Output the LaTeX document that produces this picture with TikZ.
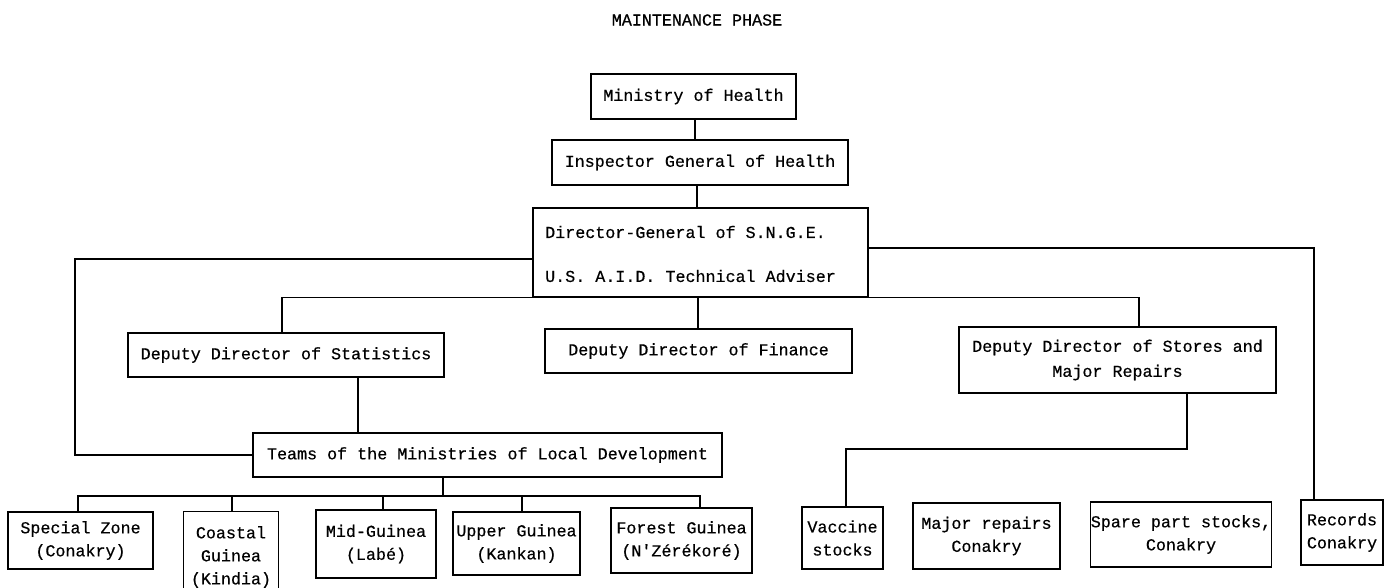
\documentclass[tikz,border=0pt]{standalone}
\usepackage{fontspec}
\setmainfont{Liberation Mono}[FakeBold=0.5, Ligatures=TeXOff]
\newcommand\boxfont{\fontsize{16.7}{23}\selectfont}
\begin{document}
\begin{tikzpicture}[x=1pt,y=-1pt,
  box/.style={draw, line width=1.3pt, inner sep=0pt, align=center, font=\boxfont},
  conn/.style={line width=1.3pt}]
\useasboundingbox (0,0) rectangle (1395,588);

\node[font=\boxfont] (title) at (697,20) {MAINTENANCE PHASE};

\node[box, minimum width=205pt, minimum height=45pt] (min) at (693.5,96.5) {Ministry of Health};
\node[box, minimum width=296pt, minimum height=45pt] (insp) at (700,162.5) {Inspector General of Health};
\node[box, minimum width=335pt, minimum height=89pt] (dg) at (700.5,252.5) {};
\node[font=\boxfont, anchor=west, inner sep=0pt] (dg1) at (545,232) {Director-General of S.N.G.E.};
\node[font=\boxfont, anchor=west, inner sep=0pt] (dg2) at (545,276) {U.S. A.I.D. Technical Adviser};

\node[box, minimum width=316pt, minimum height=44pt] (stat) at (286,355) {Deputy Director of Statistics};
\node[box, minimum width=307pt, minimum height=44pt] (fin) at (698.5,351) {Deputy Director of Finance};
\node[box, minimum width=317pt, minimum height=66pt, font=\fontsize{16.7}{25}\selectfont] (stores) at (1117.5,360) {Deputy Director of Stores and\\Major Repairs};
\node[box, minimum width=469pt, minimum height=44pt] (teams) at (487.5,455) {Teams of the Ministries of Local Development};

\node[box, minimum width=145pt, minimum height=57pt] (sz) at (80.5,540.5) {Special Zone\\(Conakry)};
\node[minimum width=94pt, minimum height=76pt, inner sep=0pt] (coast) at (231,550) {};
\draw[conn] (coast.south west) -- (coast.north west) -- (coast.north east) -- (coast.south east);
\node[font=\boxfont, align=center, inner sep=0pt] (coasttext) at (231,557) {Coastal\\Guinea\\(Kindia)};
\node[box, minimum width=120pt, minimum height=68pt] (mid) at (376,544) {Mid-Guinea\\(Labé)};
\node[box, minimum width=127pt, minimum height=63pt] (upper) at (516.5,543.5) {Upper Guinea\\(Kankan)};
\node[box, minimum width=141pt, minimum height=65pt] (forest) at (681.5,540.5) {Forest Guinea\\(N'Zérékoré)};

\node[box, minimum width=81pt, minimum height=62pt] (vac) at (842.5,538) {Vaccine\\stocks};
\node[box, minimum width=147pt, minimum height=66pt] (major) at (986.5,536) {Major repairs\\Conakry};
\node[box, minimum width=180pt, minimum height=65pt] (spare) at (1181,534.5) {Spare part stocks,\\Conakry};
\node[box, minimum width=82pt, minimum height=65pt] (rec) at (1342,532.5) {Records\\Conakry};

% connectors
\coordinate (c1) at (695,119);
\draw[conn] (c1) -- (c1 |- insp.north);
\coordinate (c2) at (697,185);
\draw[conn] (c2) -- (c2 |- dg.north);
\coordinate (dgL) at (533,259);
\coordinate (leftx) at (75,259);
\draw[conn] (dgL) -- (leftx) |- (teams.west);
\coordinate (statIn) at (282,333);
\draw[conn] (dg.south west) -| (statIn);
\coordinate (c3) at (698,297);
\draw[conn] (c3) -- (c3 |- fin.north);
\coordinate (storesIn) at (1139,327);
\draw[conn] (dg.south east) -| (storesIn);
\coordinate (dgR) at (868,248);
\coordinate (recIn) at (1314,500);
\draw[conn] (dgR) -| (recIn);
\coordinate (statOut) at (358,377);
\draw[conn] (statOut) -- (statOut |- teams.north);

% teams bus
\coordinate (teamsOut) at (443,477);
\coordinate (tbus) at (443,496);
\coordinate (busL) at (78,496);
\coordinate (busR) at (700,496);
\draw[conn] (teamsOut) -- (tbus);
\draw[conn] (busL |- sz.north) -- (busL) -- (busR) -- (busR |- forest.north);
\coordinate (b2) at (232,496);
\coordinate (b3) at (383,496);
\coordinate (b4) at (522,496);
\draw[conn] (b2) -- (b2 |- coast.north);
\draw[conn] (b3) -- (b3 |- mid.north);
\draw[conn] (b4) -- (b4 |- upper.north);

% stores bus
\coordinate (storesOut) at (1187,393);
\coordinate (sbus) at (1187,449);
\coordinate (vacIn) at (846,507);
\draw[conn] (storesOut) -- (sbus) -| (vacIn);
\end{tikzpicture}
\end{document}
